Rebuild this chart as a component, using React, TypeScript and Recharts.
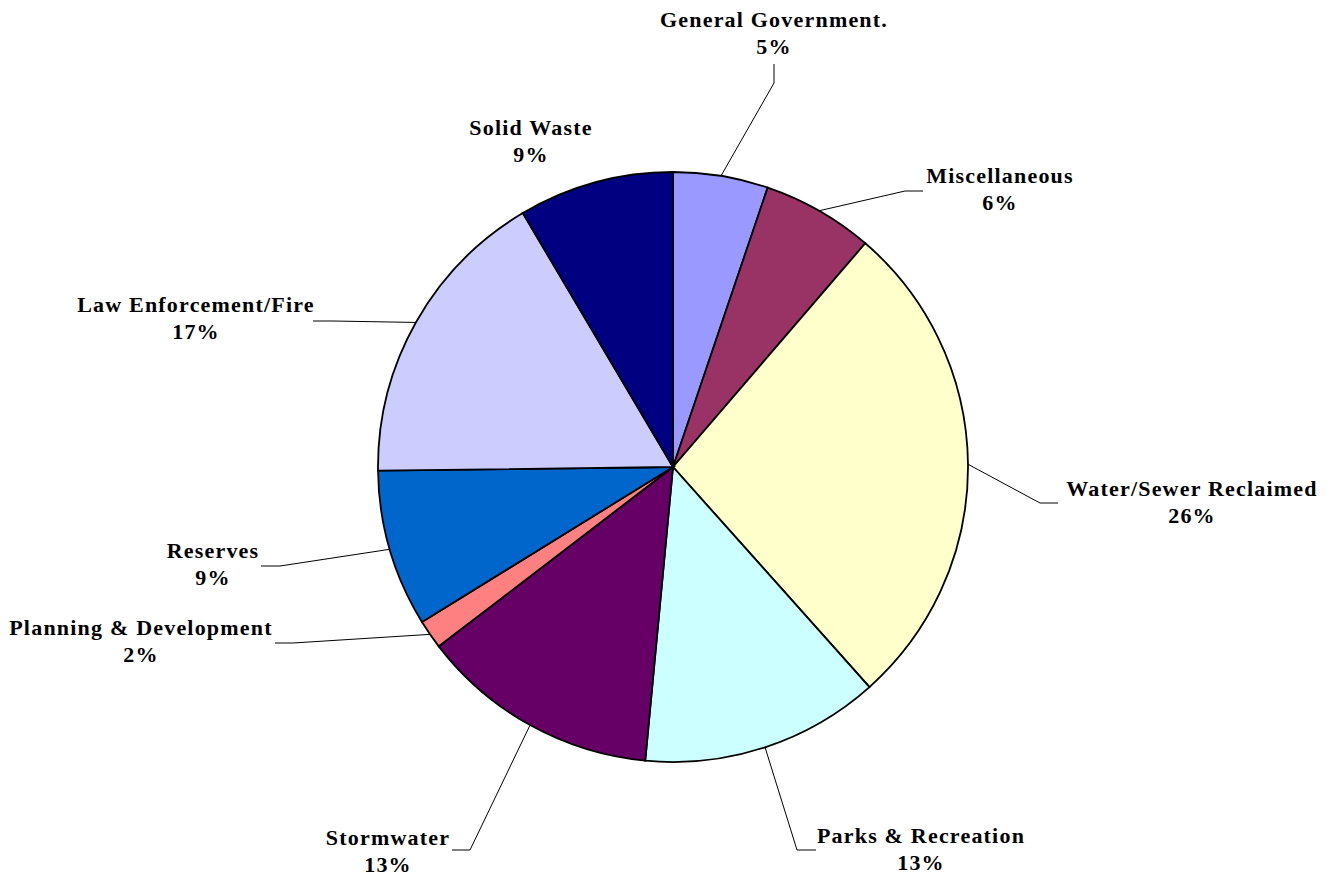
import { PieChart, Pie, Cell } from 'recharts'

// slices clockwise from 12 o'clock
const categories = [
  'General Government.',
  'Miscellaneous',
  'Water/Sewer Reclaimed',
  'Parks & Recreation',
  'Stormwater',
  'Planning & Development',
  'Reserves',
  'Law Enforcement/Fire',
  'Solid Waste',
]
const shares = [5.2, 6.1, 27.1, 13.1, 13.1, 1.6, 8.6, 16.7, 8.5]
const percentLabels = ['5%', '6%', '26%', '13%', '13%', '2%', '9%', '17%', '9%']
const colors = [
  '#9999FF',
  '#993366',
  '#FFFFCC',
  '#CCFFFF',
  '#660066',
  '#FF8080',
  '#0066CC',
  '#CCCCFF',
  '#000080',
]

// label placement: text centre x, first baseline y, leader elbow and end (null = no leader)
type LabelSpot = { x: number; y: number; elbow: [number, number] | null; end: [number, number] | null }
const labelSpots: LabelSpot[] = [
  { x: 774, y: 27, elbow: [774, 83], end: [774, 64] },
  { x: 1000, y: 183, elbow: [905, 191], end: [923, 191] },
  { x: 1192, y: 496, elbow: [1040, 503], end: [1058, 503] },
  { x: 921, y: 843, elbow: [797, 850], end: [816, 850] },
  { x: 388, y: 845, elbow: [470, 850], end: [452, 850] },
  { x: 141, y: 635, elbow: [293, 643], end: [275, 643] },
  { x: 213, y: 558, elbow: [280, 566], end: [261, 566] },
  { x: 196, y: 312, elbow: [333, 321], end: [313, 321] },
  { x: 531, y: 135, elbow: null, end: null },
]

const data = categories.map((name, i) => ({ name, value: shares[i] }))

const RAD = Math.PI / 180

function SliceLabel(props: any) {
  const { cx, cy, midAngle, outerRadius, index } = props
  const spot = labelSpots[index]
  const sx = cx + outerRadius * Math.cos(-midAngle * RAD)
  const sy = cy + outerRadius * Math.sin(-midAngle * RAD)
  return (
    <g>
      {spot.elbow && spot.end ? (
        <polyline
          points={`${sx},${sy} ${spot.elbow[0]},${spot.elbow[1]} ${spot.end[0]},${spot.end[1]}`}
          fill="none"
          stroke="#000"
          strokeWidth={1}
        />
      ) : null}
      <text
        x={spot.x}
        y={spot.y}
        textAnchor="middle"
        fill="#000"
        style={{
          fontFamily: '"Liberation Serif", "Times New Roman", serif',
          fontWeight: 'bold',
          fontSize: 22,
          letterSpacing: 1.2,
        }}
      >
        <tspan x={spot.x} y={spot.y}>
          {categories[index]}
        </tspan>
        <tspan x={spot.x} y={spot.y + 27}>
          {percentLabels[index]}
        </tspan>
      </text>
    </g>
  )
}

export default function App() {
  return (
    <div style={{ position: 'absolute', left: 0, top: 0, width: 1338, height: 877, background: '#fff' }}>
      <PieChart width={1338} height={877} margin={{ top: 0, right: 0, bottom: 0, left: 0 }}>
        <Pie
          data={data}
          dataKey="value"
          nameKey="name"
          cx={673}
          cy={467}
          outerRadius={295}
          startAngle={90}
          endAngle={-270}
          stroke="#000"
          strokeWidth={1.8}
          label={SliceLabel}
          labelLine={false}
          isAnimationActive={false}
        >
          {data.map((d, i) => (
            <Cell key={d.name} fill={colors[i]} />
          ))}
        </Pie>
      </PieChart>
    </div>
  )
}
